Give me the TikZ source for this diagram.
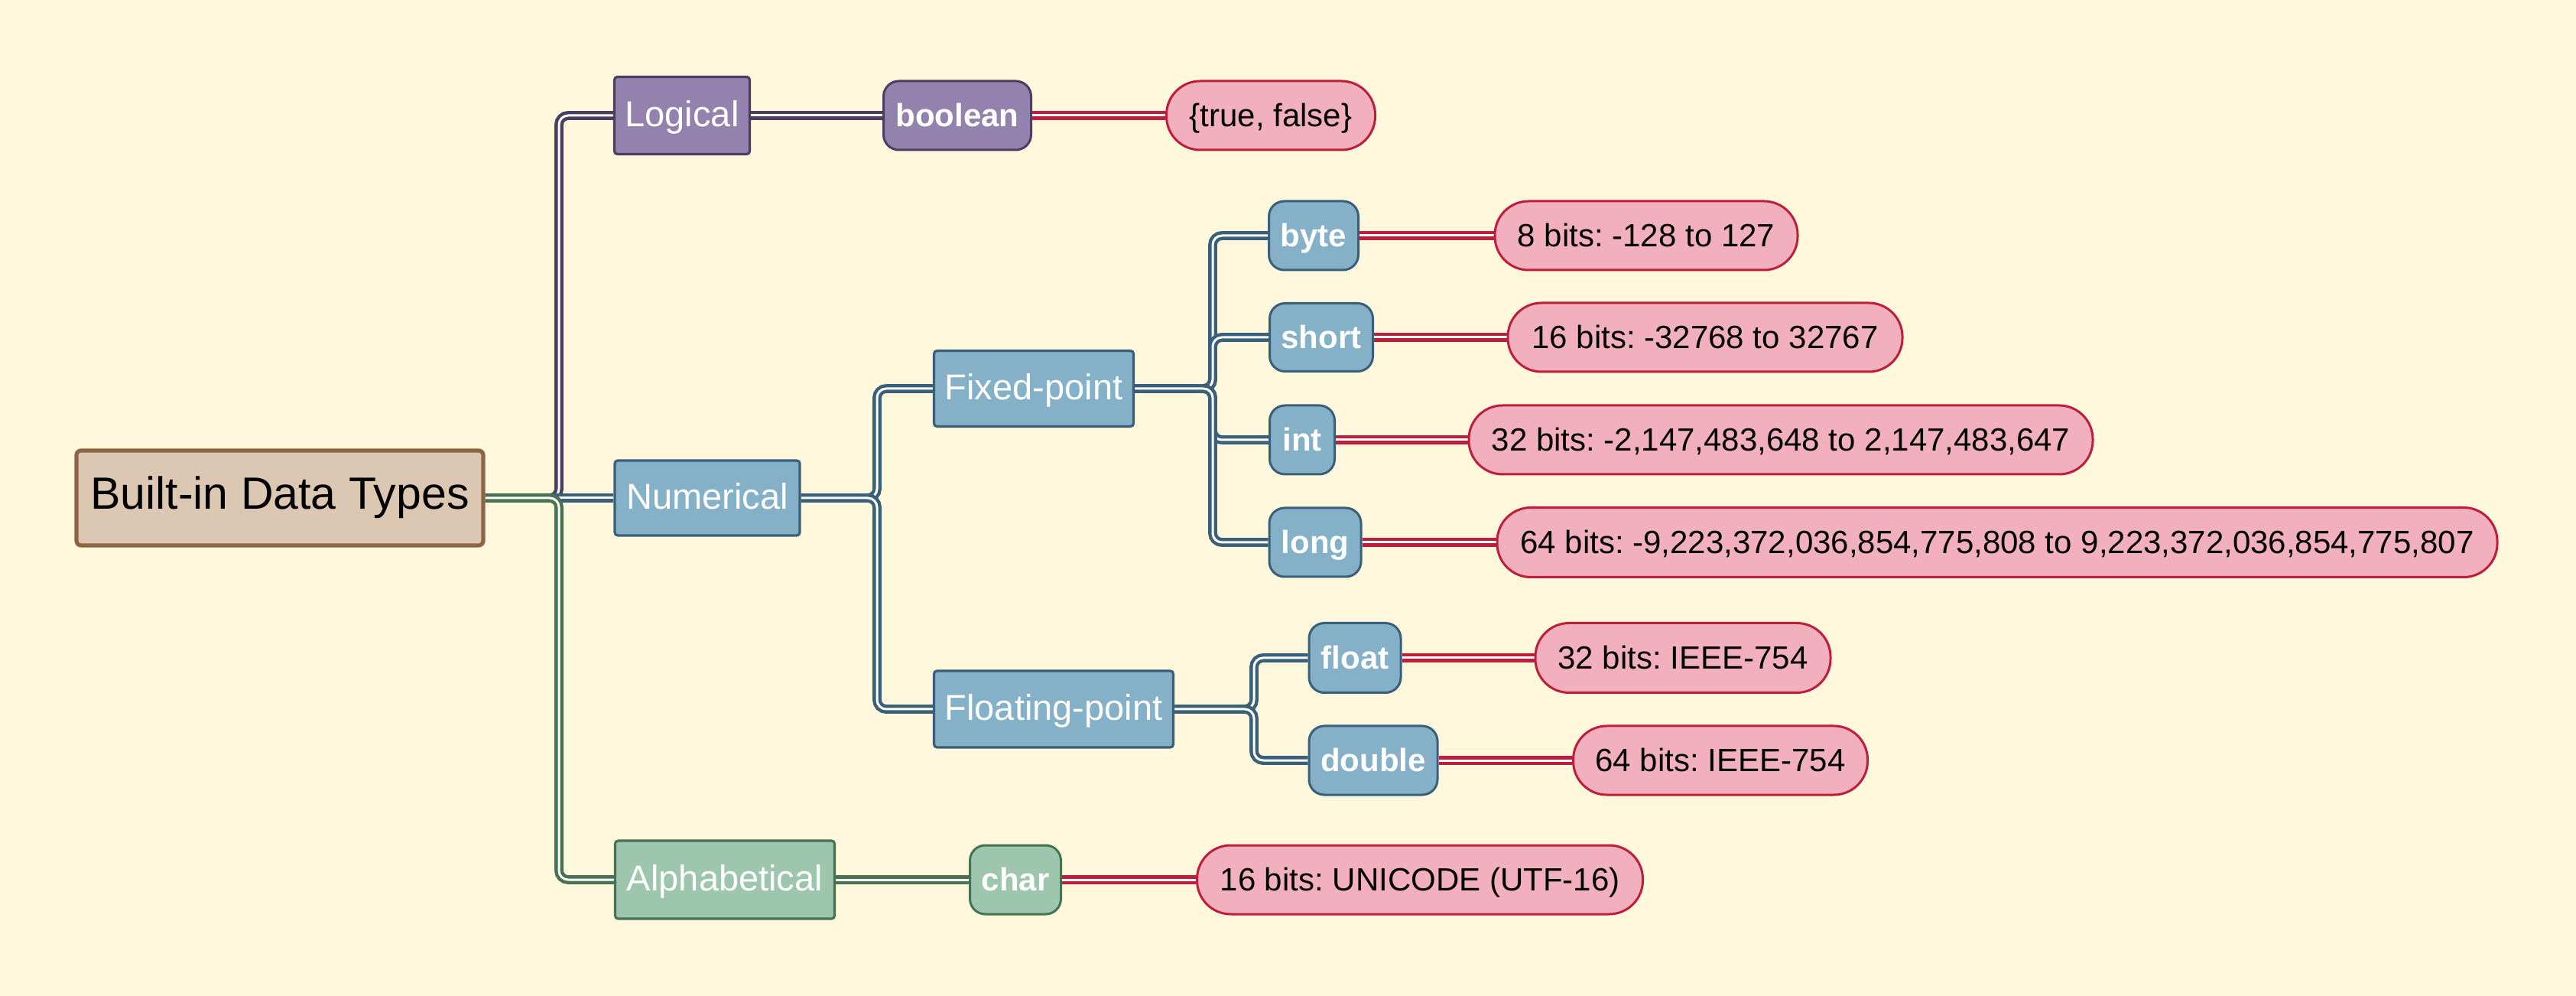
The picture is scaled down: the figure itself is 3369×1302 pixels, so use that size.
\documentclass[tikz,border=0pt]{standalone}
\usepackage{fontspec}
\setmainfont{Liberation Sans}
\definecolor{bgc}{HTML}{FFF8DC}
\definecolor{rootfill}{HTML}{DCC7B3}
\definecolor{rootline}{HTML}{8B6642}
\definecolor{pfill}{HTML}{9382AD}
\definecolor{pline}{HTML}{4B3F61}
\definecolor{bfill}{HTML}{84B0C8}
\definecolor{bline}{HTML}{3A6079}
\definecolor{gfill}{HTML}{9EC5AD}
\definecolor{gline}{HTML}{467252}
\definecolor{kfill}{HTML}{F2B0BE}
\definecolor{kline}{HTML}{BE1E3C}
\pgfdeclarelayer{bgl}
\pgfdeclarelayer{edges}
\pgfsetlayers{bgl,edges,main}
\frenchspacing
\begin{document}
\begin{tikzpicture}[x=0.25pt,y=-0.25pt,
  sz/.style 2 args={minimum width=#1*0.25pt, minimum height=#2*0.25pt},
  base/.style={draw, inner sep=0pt, align=center, text height=0.72em, text depth=0pt},
  rootbox/.style={base, fill=rootfill, draw=rootline, line width=1.3pt, rounded corners=1.5pt,
    font=\fontsize{14.75pt}{17pt}\selectfont, text=black},
  catbox/.style={base, line width=0.8pt, rounded corners=1pt,
    font=\fontsize{11.75pt}{14pt}\selectfont, text=white},
  catP/.style={catbox, fill=pfill, draw=pline},
  catB/.style={catbox, fill=bfill, draw=bline},
  catG/.style={catbox, fill=gfill, draw=gline},
  leafbox/.style={base, line width=0.75pt, rounded corners=5pt,
    font=\fontsize{10.5pt}{13pt}\selectfont\bfseries, text=white},
  leafP/.style={leafbox, fill=pfill, draw=pline},
  leafB/.style={leafbox, fill=bfill, draw=bline},
  leafG/.style={leafbox, fill=gfill, draw=gline},
  pill/.style={base, fill=kfill, draw=kline, line width=0.75pt, rounded corners=11pt,
    font=\fontsize{10.5pt}{13pt}\selectfont, text=black},
  conn/.style={line width=1.1pt, double=white, double distance=0.75pt, rounded corners=3pt},
  cP/.style={conn, draw=pline},
  cB/.style={conn, draw=bline},
  cG/.style={conn, draw=gline},
  cR/.style={conn, draw=kline}]
\begin{pgfonlayer}{bgl}
\fill[bgc] (0,0) rectangle (3369,1302);
\end{pgfonlayer}
\useasboundingbox (0,0) rectangle (3369,1302);

% level 0-1
\node[rootbox, sz={532}{124}] (root) at (366,651) {Built-in Data Types};
\node[catP, sz={177}{101}] (logical) at (892,151) {Logical};
\node[catB, sz={242}{98}] (numerical) at (925,651) {Numerical};
\node[catG, sz={287}{102}] (alpha) at (948,1150) {Alphabetical};
% level 2
\node[catB, sz={261}{99}] (fixed) at (1352,508) {Fixed-point};
\node[catB, sz={313}{100}] (floating) at (1378,927) {Floating-point};
\node[leafP, sz={193}{90}] (boolean) at (1252,151) {boolean};
\node[leafG, sz={119}{90}] (char) at (1328,1150) {char};
% level 3
\node[leafB, sz={117}{90}] (byte) at (1718,308) {byte};
\node[leafB, sz={135}{89}] (short) at (1728,441) {short};
\node[leafB, sz={85}{90}] (int) at (1703,575) {int};
\node[leafB, sz={120}{90}] (long) at (1720,709) {long};
\node[leafB, sz={120}{91}] (float) at (1772,860) {float};
\node[leafB, sz={168}{90}] (double) at (1796,994) {double};
% value pills
\node[pill, sz={273}{90}] (tf) at (1662,151) {\{true, false\}};
\node[pill, sz={396}{90}] (b8) at (2153,308) {8 bits: -128 to 127};
\node[pill, sz={516}{90}] (s16) at (2230,441) {16 bits: -32768 to 32767};
\node[pill, sz={816}{90}] (i32) at (2329,575) {32 bits: -2,147,483,648 to 2,147,483,647};
\node[pill, sz={1308}{91}] (l64) at (2612,709) {64 bits: -9,223,372,036,854,775,808 to 9,223,372,036,854,775,807};
\node[pill, sz={386}{91}] (f32) at (2201,860) {32 bits: IEEE-754};
\node[pill, sz={385}{90}] (d64) at (2250,994) {64 bits: IEEE-754};
\node[pill, sz={583}{90}] (u16) at (1857,1150) {16 bits: UNICODE (UTF-16)};

\coordinate (b0) at (731,0);
\coordinate (b1) at (1147,0);
\coordinate (b2) at (1586,0);
\coordinate (b3) at (1640,0);

\begin{pgfonlayer}{edges}
\draw[cP] (root.east) -- (root.east -| b0) |- (logical.west);
\draw[cB] (root.east) -- (numerical.west);
\draw[cG] (root.east) -- (root.east -| b0) |- (alpha.west);
\draw[cP] (logical.east) -- (boolean.west);
\draw[cG] (alpha.east) -- (char.west);
\draw[cB] (numerical.east) -- (numerical.east -| b1) |- (fixed.west);
\draw[cB] (numerical.east) -- (numerical.east -| b1) |- (floating.west);
\draw[cB] (fixed.east) -- (fixed.east -| b2) |- (byte.west);
\draw[cB] (fixed.east) -- (fixed.east -| b2) |- (short.west);
\draw[cB] (fixed.east) -- (fixed.east -| b2) |- (int.west);
\draw[cB] (fixed.east) -- (fixed.east -| b2) |- (long.west);
\draw[cB] (floating.east) -- (floating.east -| b3) |- (float.west);
\draw[cB] (floating.east) -- (floating.east -| b3) |- (double.west);
\draw[cR] (boolean.east) -- (tf.west);
\draw[cR] (byte.east) -- (b8.west);
\draw[cR] (short.east) -- (s16.west);
\draw[cR] (int.east) -- (i32.west);
\draw[cR] (long.east) -- (l64.west);
\draw[cR] (float.east) -- (f32.west);
\draw[cR] (double.east) -- (d64.west);
\draw[cR] (char.east) -- (u16.west);
\end{pgfonlayer}
\end{tikzpicture}
\end{document}
